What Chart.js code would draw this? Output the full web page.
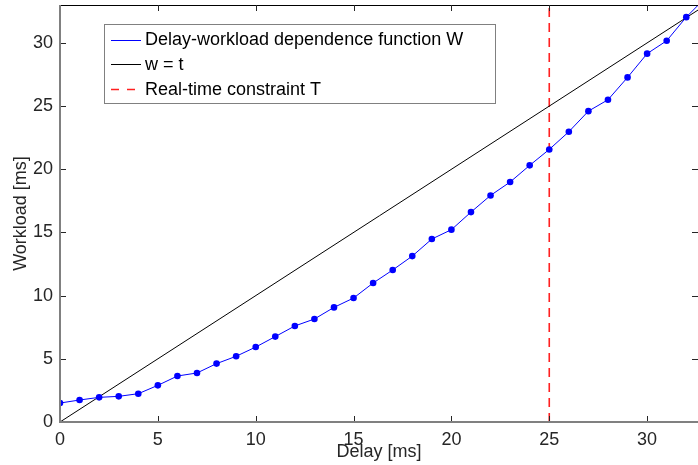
<!DOCTYPE html>
<html>
<head>
<meta charset="utf-8">
<script src="https://cdn.jsdelivr.net/npm/chart.js@4"></script>
<style>
  body { margin: 0; background: #fff; }
  #wrap { width: 698px; height: 465px; }
</style>
</head>
<body>
<div id="wrap"><canvas id="myChart" width="698" height="465"></canvas></div>
<script>
// values
var delays = [0,1,2,3,4,5,6,7,8,9,10,11,12,13,14,15,16,17,18,19,20,21,22,23,24,25,26,27,28,29,30,31,32,33];
var workload = [1.50,1.74,1.95,2.03,2.24,2.90,3.64,3.88,4.62,5.20,5.93,6.76,7.60,8.15,9.07,9.81,11.00,12.03,13.13,14.48,
                15.22,16.61,17.93,18.99,20.31,21.57,22.97,24.60,25.50,27.27,29.15,30.17,32.04,33.6];
var identX = [0, 34];
var constraintT = 25;
var xTicks = [0,5,10,15,20,25,30];
var yTicks = [0,5,10,15,20,25,30];
var legendLabels = ["Delay-workload dependence function W", "w = t", "Real-time constraint T"];

var FONT = "'Liberation Sans', Arial, sans-serif";

var wData = delays.map(function (d, i) { return {x: d, y: workload[i]}; });
var lineData = identX.map(function (v) { return {x: v, y: v}; });
var tData = [{x: constraintT, y: 0}, {x: constraintT, y: 34}];

// matlab style box: grey left/bottom axes, ticks pointing inward, black top edge
var axesBox = {
  id: 'axesBox',
  afterDatasetsDraw: function (chart) {
    var c = chart.ctx, a = chart.chartArea;
    var xs = chart.scales.x, ys = chart.scales.y;
    c.save();
    c.strokeStyle = '#000';
    c.lineWidth = 1;
    c.beginPath();
    c.moveTo(a.left, a.top + 0.5);
    c.lineTo(a.right, a.top + 0.5);
    c.stroke();
    c.strokeStyle = '#262626';
    c.beginPath();
    xTicks.forEach(function (t) {
      var px = Math.round(xs.getPixelForValue(t)) + 0.5;
      c.moveTo(px, a.bottom); c.lineTo(px, a.bottom - 6);
      c.moveTo(px, a.top); c.lineTo(px, a.top + 6);
    });
    yTicks.forEach(function (t) {
      var py = Math.round(ys.getPixelForValue(t)) + 0.5;
      c.moveTo(a.left, py); c.lineTo(a.left + 6, py);
      c.moveTo(a.right, py); c.lineTo(a.right - 6, py);
    });
    c.stroke();
    c.strokeStyle = '#808080';
    c.lineWidth = 2;
    c.beginPath();
    c.moveTo(a.left, a.top);
    c.lineTo(a.left, a.bottom);
    c.lineTo(a.right, a.bottom);
    c.stroke();
    c.restore();
  }
};

var boxLegend = {
  id: 'boxLegend',
  afterDraw: function (chart) {
    var c = chart.ctx;
    var ds = chart.data.datasets;
    c.save();
    c.fillStyle = '#fff';
    c.fillRect(104.5, 24.5, 391, 79);
    c.strokeStyle = '#808080';
    c.lineWidth = 1;
    c.strokeRect(104.5, 24.5, 391, 79);
    c.font = '18px ' + FONT;
    c.textBaseline = 'middle';
    c.fillStyle = '#000';
    for (var i = 0; i < legendLabels.length; i++) {
      var y = 39.5 + i * 24.7;
      c.strokeStyle = ds[i].borderColor;
      c.lineWidth = i === 2 ? 1.5 : 1;
      c.setLineDash(i === 2 ? [8, 8] : []);
      c.beginPath();
      c.moveTo(111, Math.round(y) + 0.5);
      c.lineTo(141, Math.round(y) + 0.5);
      c.stroke();
      c.setLineDash([]);
      c.fillText(legendLabels[i], 145, y + 1);
    }
    c.restore();
  }
};

function noPad(s) {
  s.paddingTop = 0; s.paddingBottom = 0; s.paddingLeft = 0; s.paddingRight = 0;
}

var ctx = document.getElementById('myChart').getContext('2d');
var chart = new Chart(ctx, {
  type: 'line',
  data: {
    datasets: [{
      label: legendLabels[0],
      data: wData,
      borderColor: '#0000ff',
      backgroundColor: '#0000ff',
      borderWidth: 1,
      pointRadius: 3.3,
      pointBorderWidth: 0,
      fill: false
    }, {
      label: legendLabels[1],
      data: lineData,
      borderColor: '#000000',
      borderWidth: 1,
      pointRadius: 0,
      fill: false
    }, {
      label: legendLabels[2],
      data: tData,
      borderColor: '#ff2020',
      borderWidth: 1.6,
      borderDash: [9, 6],
      pointRadius: 0,
      fill: false
    }]
  },
  options: {
    responsive: false,
    animation: false,
    devicePixelRatio: 1,
    layout: {autoPadding: false, padding: {top: 5, right: 0, left: 0, bottom: 0}},
    plugins: {legend: {display: false}, tooltip: {enabled: false}},
    scales: {
      x: {
        type: 'linear',
        min: 0,
        max: 32.6,
        afterFit: function (s) { s.height = 43; noPad(s); },
        afterBuildTicks: function (s) { s.ticks = xTicks.map(function (v) { return {value: v}; }); },
        grid: {display: false, drawTicks: false},
        border: {display: false},
        ticks: {padding: 7, color: '#262626', font: {family: FONT, size: 18}, maxRotation: 0},
        title: {display: true, text: 'Delay [ms]', color: '#262626', font: {family: FONT, size: 18}, padding: {top: 0, bottom: 2}}
      },
      y: {
        type: 'linear',
        min: 0,
        max: 33,
        afterFit: function (s) { s.width = 60; noPad(s); },
        afterBuildTicks: function (s) { s.ticks = yTicks.map(function (v) { return {value: v}; }); },
        grid: {display: false, drawTicks: false},
        border: {display: false},
        ticks: {padding: 7, color: '#262626', font: {family: FONT, size: 18}},
        title: {display: true, text: 'Workload [ms]', color: '#262626', font: {family: FONT, size: 18}, padding: {top: 10, bottom: 0}}
      }
    }
  },
  plugins: [axesBox, boxLegend]
});
</script>
</body>
</html>
